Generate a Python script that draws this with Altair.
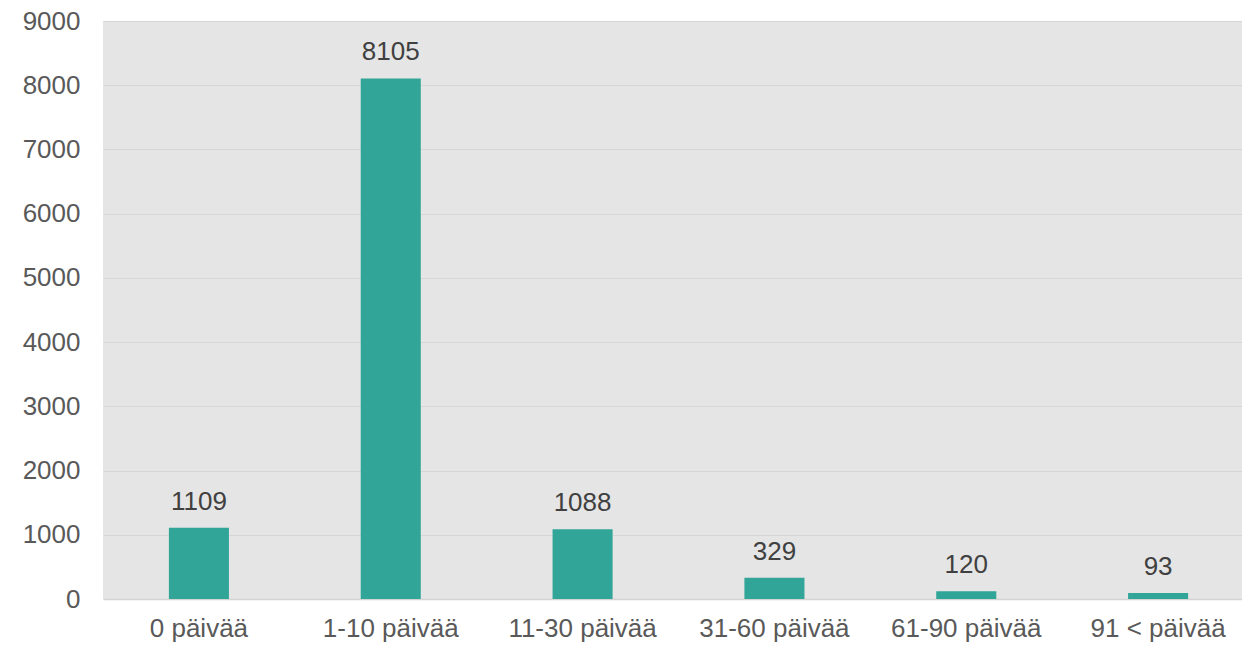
import altair as alt
import pandas as pd

categories = ["0 päivää", "1-10 päivää", "11-30 päivää", "31-60 päivää", "61-90 päivää", "91 < päivää"]
values = [1109, 8105, 1088, 329, 120, 93]
y_ticks = [0, 1000, 2000, 3000, 4000, 5000, 6000, 7000, 8000, 9000]

df = pd.DataFrame({"cat": categories, "val": values})

FONT = "Liberation Sans"

base = alt.Chart(df).encode(
    x=alt.X("cat:N", sort=categories, title=None,
            scale=alt.Scale(paddingInner=0.687, paddingOuter=0.3435, range=[0, 1151]),
            axis=alt.Axis(labelAngle=0, labelFontSize=26, labelColor="#595959", labelFont=FONT,
                          ticks=False, labelPadding=16, domainColor="#d4d4d4", domainWidth=1.5)),
    y=alt.Y("val:Q", title=None,
            scale=alt.Scale(domain=[0, 9000], nice=False),
            axis=alt.Axis(values=y_ticks, format="d", labelFontSize=26, labelColor="#595959",
                          labelFont=FONT, ticks=False, domain=False, labelPadding=23,
                          gridColor="#d6d6d6", gridWidth=1.2)),
)

bars = base.mark_bar(color="#31A598")
labels = base.mark_text(baseline="middle", dy=-26, fontSize=26, color="#404040", font=FONT).encode(
    text=alt.Text("val:Q"))

chart = (bars + labels).properties(
    width=1139, height=578,
    background="white",
    autosize=alt.AutoSizeParams(type="none"),
    padding={"left": 95, "top": 13, "right": 0, "bottom": 46},
).configure_view(fill="#e5e5e5", stroke=None)

chart.save("out.html", embed_options={"renderer": "svg", "actions": False})
